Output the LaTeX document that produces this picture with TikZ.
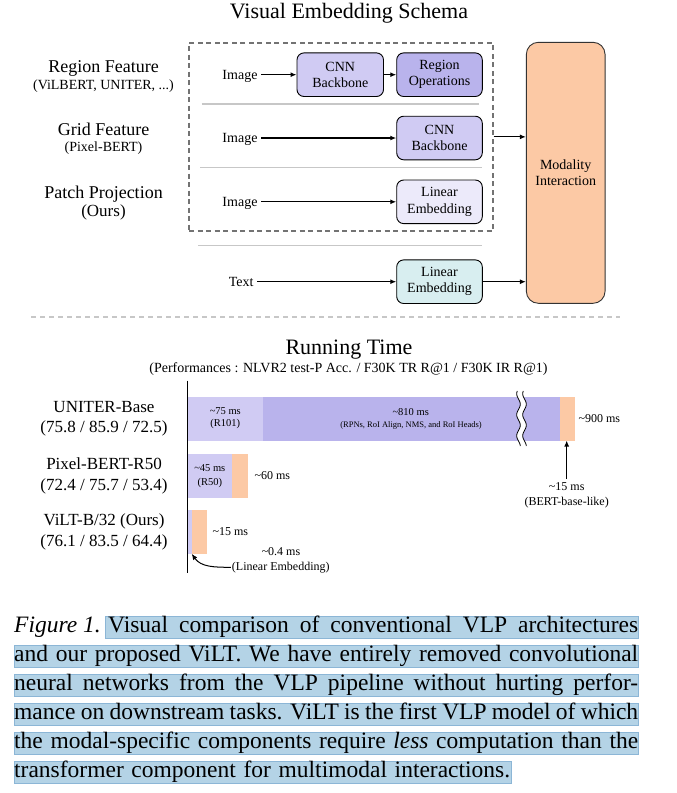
\documentclass[tikz,border=0pt]{standalone}
\usepackage{fontspec}
\setmainfont{Liberation Serif}
\usetikzlibrary{arrows.meta}

\definecolor{lavA}{RGB}{208,203,243}
\definecolor{lavB}{RGB}{185,179,236}
\definecolor{lavC}{RGB}{236,234,250}
\definecolor{cianoA}{RGB}{216,238,240}
\definecolor{pessego}{RGB}{252,201,165}
\definecolor{realce}{RGB}{180,211,230}
\definecolor{realceBorda}{RGB}{140,182,214}

\begin{document}
\begin{tikzpicture}[x=1pt, y=-1pt,
    every node/.style={font=\fontsize{14}{16.3}\selectfont},
    >={Latex[length=6pt,width=5pt]},
    caixa/.style={draw, rounded corners=7pt, line width=0.9pt, align=center,
        minimum width=85.6, minimum height=43.6, inner sep=2pt},
    seta/.style={->, line width=1.2pt},
    barra/.style={inner sep=0pt, outer sep=0pt, minimum height=\bh, anchor=north west},
    sep/.style={black!22, line width=1.4pt},
    hl/.style={fill=realce, draw=realceBorda, line width=0.5pt},
    legenda/.style={anchor=base west, inner sep=0pt, font=\fontsize{23.5}{29}\selectfont}]

    \useasboundingbox (0,0) rectangle (677,793);

    % Esquema de embedding visual
    \node[font=\fontsize{22}{26}\selectfont, anchor=base] (tit1) at (349,18.3) {Visual Embedding Schema};

    \node[font=\fontsize{18}{21}\selectfont, anchor=base] (reg) at (103.5,72.7) {Region Feature};
    \node[anchor=base] (regsub) at (103.5,89.3) {(ViLBERT, UNITER, ...)};
    \node[font=\fontsize{18}{21}\selectfont, anchor=base] (grid) at (103.5,135) {Grid Feature};
    \node[anchor=base] (gridsub) at (103.5,151.7) {(Pixel-BERT)};
    \node[font=\fontsize{18}{21}\selectfont, anchor=base] (patch) at (103.5,198.3) {Patch Projection};
    \node[font=\fontsize{17}{20}\selectfont, anchor=base] (patchsub) at (103.5,216.7) {(Ours)};

    % Caixa tracejada e separadores
    \node[draw=black!55, dash pattern=on 5pt off 3.5pt, line width=1.8pt,
        minimum width=303.7, minimum height=188.3, inner sep=0pt] (vis) at (340.85,136.85) {};
    \draw[sep] (201.7,104) -- (479,104);
    \draw[sep] (200,167.7) -- (481.7,167.7);
    \draw[sep] (198,245.7) -- (482.3,245.7);
    \draw[black!22, line width=2pt, dash pattern=on 5pt off 4pt] (31,316.7) -- (620,316.7);

    % Blocos
    \node[caixa, fill=lavA, minimum width=86.5] (cnnA) at (340.25,74.7) {CNN\\Backbone};
    \node[caixa, fill=lavB] (regop) at (439.5,74.7) {Region\\Operations};
    \node[caixa, fill=lavA] (cnnB) at (439.5,138) {CNN\\Backbone};
    \node[caixa, fill=lavC] (linA) at (439.5,201.8) {Linear\\Embedding};
    \node[caixa, fill=cianoA] (linT) at (439.5,281.7) {Linear\\Embedding};
    \node[caixa, fill=pessego, draw=black!80, minimum width=78.7, minimum height=261,
        rounded corners=12pt] (modal) at (565.7,172.8) {Modality\\Interaction};

    \node[anchor=east, text depth=0pt] (img1) at (261,74.7) {Image};
    \node[anchor=east, text depth=0pt] (img2) at (261,138) {Image};
    \node[anchor=east, text depth=0pt] (img3) at (261,201.8) {Image};
    \node[anchor=east, text depth=0pt] (txt) at (257,281.7) {Text};

    \draw[seta] (img1.east) -- (cnnA.west);
    \draw[seta] (cnnA.east) -- (regop.west);
    \draw[seta] (img2.east) -- (cnnB.west);
    \draw[seta] (img3.east) -- (linA.west);
    \draw[seta] (txt.east) -- (linT.west);
    \draw[seta] (vis.east) -- (vis.east -| modal.west);
    \draw[seta] (linT.east) -- (linT.east -| modal.west);

    % Tempo de execução
    \node[font=\fontsize{22}{26}\selectfont, anchor=base] (tit2) at (349,354) {Running Time};
    \node[anchor=base] (subt) at (348.5,372.7) {(Performances : NLVR2 test-P Acc. / F30K TR R@1 / F30K IR R@1)};

    \def\bh{43.8} % altura das barras

    % --- UNITER-Base
    \node[barra, fill=lavA, minimum width=76] (uni1) at (187.3,396.7) {};
    \node[barra, fill=lavB, minimum width=296.7] (uni2) at (uni1.north east) {};
    \node[barra, fill=pessego, minimum width=15] (uni3) at (uni2.north east) {};
    % quebra ondulada
    \fill[white] plot[domain=391:446, samples=45] ({518.5+1.8*sin(\x*17.143)},\x)
        -- plot[domain=446:391, samples=45] ({524.5+1.8*sin(\x*17.143)},\x) -- cycle;
    \draw[line width=0.8pt] plot[domain=391:446, samples=45] ({518.5+1.8*sin(\x*17.143)},\x);
    \draw[line width=0.8pt] plot[domain=391:446, samples=45] ({524.5+1.8*sin(\x*17.143)},\x);

    \node[font=\fontsize{10.5}{12}\selectfont, align=center] (t75) at (uni1) {\textasciitilde75 ms\\(R101)};
    \node[font=\fontsize{10.5}{12}\selectfont] (t810) at (410.7,412) {\textasciitilde810 ms};
    \node[font=\fontsize{8.5}{10}\selectfont] (t810sub) at (411,425.5) {(RPNs, RoI Align, NMS, and RoI Heads)};
    \node[anchor=west, font=\fontsize{12}{14}\selectfont] (t900) at (uni3.east) {\textasciitilde900 ms};

    \node[font=\fontsize{12}{14.7}\selectfont, align=center] (bert) at (566.7,495.3) {\textasciitilde15 ms\\(BERT-base-like)};
    \draw[seta] (bert.north) -- (bert.north |- uni3.south);

    % --- Pixel-BERT-R50
    \node[barra, fill=lavA, minimum width=45] (pb1) at (187.3,454) {};
    \node[barra, fill=pessego, minimum width=15.7] (pb2) at (pb1.north east) {};
    \node[font=\fontsize{10.5}{14}\selectfont, align=center] (t45) at (pb1) {\textasciitilde45 ms\\(R50)};
    \node[anchor=west, font=\fontsize{12}{14}\selectfont, xshift=3pt] (t60) at (pb2.east) {\textasciitilde60 ms};

    % --- ViLT-B/32
    \node[barra, fill=lavA, minimum width=4.4] (vl1) at (187.3,510) {};
    \node[barra, fill=pessego, minimum width=15.3] (vl2) at (vl1.north east) {};
    \node[anchor=west, font=\fontsize{12}{14}\selectfont, xshift=2pt] (t15) at (vl2.east) {\textasciitilde15 ms};
    \node[font=\fontsize{12}{14}\selectfont] (t04) at (281,551.7) {\textasciitilde0.4 ms};
    \node[font=\fontsize{12}{14}\selectfont, inner sep=1pt] (linemb) at (280.8,567.3) {(Linear Embedding)};
    \draw[seta, line width=1pt] (linemb.west) to[out=180, in=-55] (vl1.south east);

    % Eixo
    \draw[line width=1.6pt] (187.3,380.7) -- (187.3,573);

    % Rótulos dos modelos
    \node[font=\fontsize{17}{20.5}\selectfont, align=center] (lbuni) at (104,418.7) {UNITER-Base\\(75.8 / 85.9 / 72.5)};
    \node[font=\fontsize{17}{20.5}\selectfont, align=center] (lbpb) at (104,475.8) {Pixel-BERT-R50\\(72.4 / 75.7 / 53.4)};
    \node[font=\fontsize{17}{20.5}\selectfont, align=center] (lbvl) at (104,531.8) {ViLT-B/32 (Ours)\\(76.1 / 83.5 / 64.4)};

    % Legenda da figura (texto realçado)
    \draw[hl] (105.5,616.5) rectangle (638.6,638.3);
    \foreach \b in {661,690,719,748} {
        \draw[hl] (14.5,\b-15.5) rectangle (638.6,\b+6.3);
    }
    \draw[hl] (14.5,761.5) rectangle (511.7,783.3);

    \node[legenda] (cap1a) at (14,632) {\textit{Figure 1.}};
    \node[legenda] (cap1b) at (108,632) {\hbox to 530pt{Visual comparison of conventional VLP architectures}};
    \node[legenda] (cap2) at (14,661) {\hbox to 624pt{and our proposed ViLT. We have entirely removed convolutional}};
    \node[legenda] (cap3) at (14,690) {\hbox to 624pt{neural networks from the VLP pipeline without hurting perfor-}};
    \node[legenda] (cap4) at (14,719) {\hbox to 624pt{mance on downstream tasks. ViLT is the first VLP model of which}};
    \node[legenda] (cap5) at (14,748) {\hbox to 624pt{the modal-specific components require \textit{less} computation than the}};
    \node[legenda] (cap6) at (14,777) {\hbox to 496pt{transformer component for multimodal interactions.}};
\end{tikzpicture}
\end{document}
